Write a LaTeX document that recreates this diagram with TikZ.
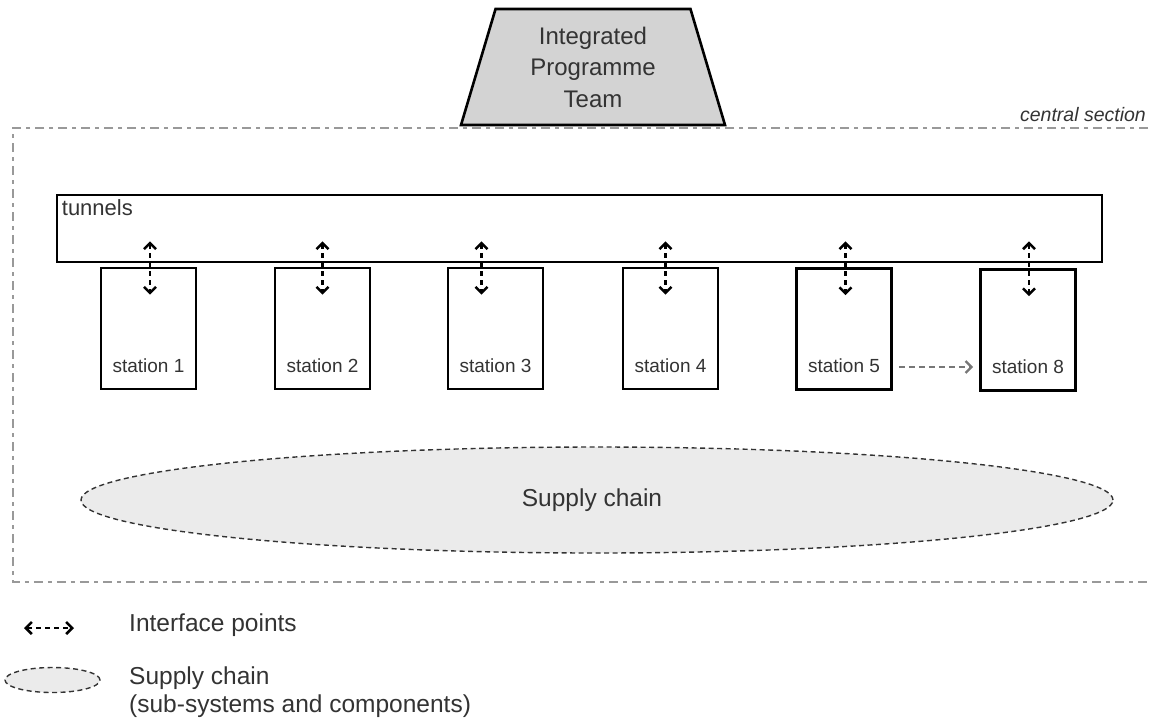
\documentclass[tikz,border=0pt]{standalone}
\usepackage{fontspec}
\setmainfont{Liberation Sans}
\usetikzlibrary{shapes.geometric,arrows.meta,calc,positioning}

\definecolor{txtgrey}{HTML}{333333}
\definecolor{iptfill}{HTML}{D3D3D3}
\definecolor{chainfill}{HTML}{EBEBEB}
\definecolor{framegrey}{HTML}{999999}
\definecolor{flowgrey}{HTML}{777777}

\begin{document}
\begin{tikzpicture}[
	x = 1pt, y = -1pt,
	every node/.style = {text=txtgrey},
	box/.style = {draw=black, line width=2.6pt, inner sep=0pt},
	station/.style = {box, minimum width=95pt, minimum height=121pt},
	stlbl/.style = {anchor=base, yshift=18pt, inner sep=0pt,
		font=\fontsize{19}{23}\selectfont},
	bigtext/.style = {inner sep=0pt, font=\fontsize{24.5}{28}\selectfont},
	chain/.style = {draw=txtgrey, ellipse, fill=chainfill, line width=1.4pt,
		dash pattern=on 5pt off 3.5pt, inner sep=0pt},
	iface/.style = {draw=black, line width=2.6pt, dash pattern=on 5pt off 4pt,
		{Straight Barb[length=6pt,width=12pt]}-{Straight Barb[length=6pt,width=12pt]}},
	flow/.style = {draw=flowgrey, line width=2.4pt, dash pattern=on 6pt off 4pt,
		-{Straight Barb[length=6pt,width=12pt]}, shorten <=6pt, shorten >=6pt},
	frame/.style = {draw=framegrey, line width=1.4pt,
		dash pattern=on 9pt off 5pt on 4pt off 5pt}]

	\useasboundingbox (0,0) rectangle (1153,721);

	% central section frame, open on the right
	\draw[frame] (1148,128) -- (13,128) -- (13,582) -- (1148,582);
	\node[inner sep=0pt, anchor=base east, font=\fontsize{19.5}{23}\selectfont\itshape]
		(central) at (1146,121) {central section};

	\node[trapezium, trapezium stretches=true, trapezium angle=74.6,
		minimum width=264pt, minimum height=116pt, box, fill=iptfill,
		align=center, font=\fontsize{24}{31.5}\selectfont]
		(ipt) at (593,67) {Integrated\\Programme\\Team};

	% tunnels and stations
	\node[box, minimum width=1045pt, minimum height=67pt] (tun) at (579.5,228.5) {};
	\node[inner sep=0pt, anchor=base west, font=\fontsize{22}{26}\selectfont]
		(tunlbl) at ($(tun.north west)+(6,22)$) {tunnels};

	\node[station, label={[stlbl]south:station 1}] (s1) at (148.5,328.5) {};
	\node[station, label={[stlbl]south:station 2}] (s2) at (322.5,328.5) {};
	\node[station, label={[stlbl]south:station 3}] (s3) at (495.5,328.5) {};
	\node[station, label={[stlbl]south:station 4}] (s4) at (670.5,328.5) {};
	\node[station, label={[stlbl]south:station 5}] (s5) at (844,329) {};
	\node[station, label={[stlbl]south:station 8}] (s8) at (1028,330) {};

	% interface points
	\draw[iface] ($(tun.south -| s1.north)+(1.5,-22)$) -- ($(s1.north)+(1.5,28)$);
	\draw[iface] ($(tun.south -| s2.north)+(0,-22)$) -- ($(s2.north)+(0,28)$);
	\draw[iface] ($(tun.south -| s3.north)+(-14,-22)$) -- ($(s3.north)+(-14,28)$);
	\draw[iface] ($(tun.south -| s4.north)+(-5,-22)$) -- ($(s4.north)+(-5,28)$);
	\draw[iface] ($(tun.south -| s5.north)+(1.5,-22)$) -- ($(s5.north)+(1.5,28)$);
	\draw[iface] ($(tun.south -| s8.north)+(1,-22)$) -- ($(s8.north)+(1,28)$);

	\draw[flow] ($(s5.east)+(0,38)$) -- ($(s8.west)+(0,37)$);

	\node[chain, minimum width=1032pt, minimum height=106pt]
		(chain) at (597,500) {};
	\node[bigtext] (chainlbl) at (592,500) {Supply chain};

	% legend
	\coordinate (ifa) at (24,628);
	\coordinate (ifb) at (74,628);
	\draw[iface] (ifa) -- (ifb);
	\node[bigtext, anchor=base west] (iflbl) at (129,631) {Interface points};

	\node[chain, minimum width=95pt, minimum height=25pt] (chainleg) at (52.5,680) {};
	\node[bigtext, anchor=base west, align=left] (legtext) at (129,712)
		{Supply chain\\(sub-systems and components)};
\end{tikzpicture}
\end{document}
